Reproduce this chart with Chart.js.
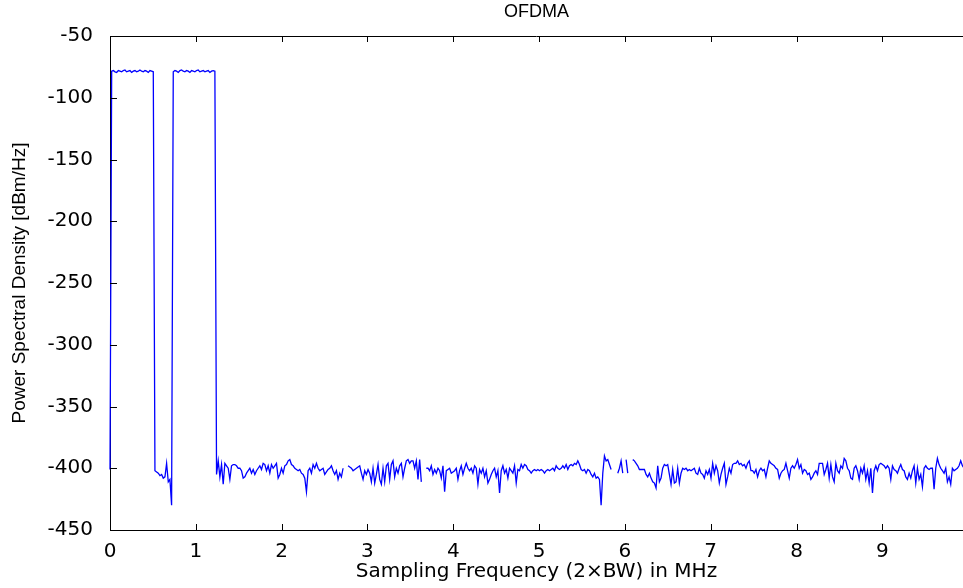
<!DOCTYPE html>
<html>
<head>
<meta charset="utf-8">
<script src="https://cdn.jsdelivr.net/npm/chart.js@4/dist/chart.umd.min.js"></script>
<style>
  body { margin: 0; background: #fff; }
  #wrap { width: 963px; height: 588px; }
</style>
</head>
<body>
<div id="wrap"><canvas id="psdChart" width="963" height="588"></canvas></div>
<script>
// PSD samples, uniform spacing in MHz
const FREQ_STEP = 0.0194;
const dcLevel = -401;
const bandA = [-78.5, -78, -79, -79.5, -78, -78.5, -79, -78, -77.5, -79, -78.5, -78, -79.5,
               -78.5, -78, -79, -78.5, -77.5, -78.5, -79, -78, -78.5, -79.5, -78, -78.5, -79];
const gapA = [-402, -403, -404, -406, -405, -408, -407, -396, -411, -409, -430];
const bandB = [-79, -78, -78.5, -79.5, -78, -77.5, -78.5, -79, -78, -78.5, -79.5, -78, -78.5,
               -79, -78, -77.5, -79, -78.5, -78, -79, -78.5, -78, -79.5, -78.5, -78, -78.5];
const noiseFloor = [
  -405,
  -394, -407, -397, -413, -396, -398, -400, -409, -398, -397, -397, -398, -400, -400, -402, -408,
  -407, -404, -402, -400, -404, -401, -405, -402, -400, -398, -401, -396, -397, -402, -398, -404,
  -397, -400, -398, -396, -408, -405, -400, -404, -398, -397, -394, -393, -397, -398, -400, -401,
  -402, -401, -404, -405, -408, -419, -402, -400, -404, -397, -400, -396, -400,
  -402, -401, -400, -405, -403, -401, -400, -398, -402, -405, -402, -409, -404, -407, -400, null,
  null, -398, -399, -400, -402, -401, -400, -399, -398, -404, -409, -402, -405, -401, -404, -411,
  -400, -412, -405, -397, -409, -413, -400, -411, -398, -396, -409, -397, -394, -407, -400, -404,
  -398, -396, -407, -400, -394, -393, -396, -394, -394, -400, -394, -409, -393, -411, null, null, -400,
  -400, -402, -398, -405, -401, -404, -400, -402, -408, -398, -419, -402, -401, -400, -404, -403,
  -402, -400, -409, -402, -398, -405, -400, -396, -400, -402, -400, -404, -398, -400, -413, -401,
  -404, -400, -407, -402, -412, -409, -405, -402, -400, -407, -402, -420, -402, -398, -404, -401,
  -408, -400, -402, -404, -398, -412, -401, -402, -397, -400, -397, -398, -401, -402, -404, -402, -401,
  -402, -401, -402, -401, -402, -404, -402, -401, -402, -401, -400, -402, -398, -400, -401, -400,
  -398, -400, -397, -401, -398, -397, -398, -396, -397, -394, -397, -401, -402, -401, -404, -401,
  -402, -405, -407, -404, -408, -407, -409, -430, -404, -390, -394, -393, -397, -401, null, null,
  null, -404, -400, -394, -404, null, -393, -404, null, null, -393, -394, -396, -398, -401, -401, -401,
  -401, -405, -407, -404, -408, -411, -412, -416, -398, -411, -408, -400, -397, -398, -397, -405,
  -413, -401, -412, -411, -400, -412, -404, -400, -401, -400, -402, -401, -402, -401, -400, -404,
  -405, -400, -404, -405, -408, -402, -405, -401, -408, -396, -404, -398, -402, -412, -405, -400,
  -396, -413, -407, -400, -404, -397, -396, -396, -394, -397, -396, -398, -397, -400, -396, -394, -402,
  -402, -404, -401, -407, -402, -400, -402, -401, -407, -400, -394, -396, -397, -398, -400, -401,
  -408, -404, -402, -401, -396, -402, -408, -400, -398, -400, -397, -393, -400, -397, -404, -401,
  -402, -405, -404, -409, -407, -404, -402, -405, -396, -396, -396, -405, -401, -396, -408, -397,
  -407, -411, -396, -402, -404, -398, -400, -392, -394, -400, -402, -408, -409, -400,
  -398, -402, -409, -400, -404, -398, -409, -402, -412, -400, -420, -402, -398, -402, -397, -396,
  -397, -398, -400, -398, -400, -409, -398, -401, -402, -404, -400, -397, -401, -402, -407, -409,
  -404, -408, -402, -398, -412, -400, -409, -405, -415, -400, -398, -400, -401, -400, -400, -417,
  -400, -392, -397, -400, -402, -404, -400, -411, -407, -413, -400, -402, -401, -400, -398, -394,
  -398, -400
];

const xTicks = [0, 1, 2, 3, 4, 5, 6, 7, 8, 9];
const yTicks = [-450, -400, -350, -300, -250, -200, -150, -100, -50];

const psd = [dcLevel, ...bandA, ...gapA, ...bandB, ...noiseFloor];
const points = psd.map((v, i) => ({ x: i * FREQ_STEP, y: v }));

// MATLAB style box: top line + inward ticks
const boxTicks = {
  id: 'boxTicks',
  afterDraw(chart) {
    const { ctx, chartArea: a, scales } = chart;
    ctx.save();
    ctx.strokeStyle = '#000';
    ctx.lineWidth = 1;
    ctx.beginPath();
    ctx.moveTo(a.left, a.top + 0.5);
    ctx.lineTo(a.right, a.top + 0.5);
    xTicks.forEach(t => {
      const px = Math.round(scales.x.getPixelForValue(t)) + 0.5;
      ctx.moveTo(px, a.bottom);
      ctx.lineTo(px, a.bottom - 6);
      ctx.moveTo(px, a.top);
      ctx.lineTo(px, a.top + 6);
    });
    yTicks.forEach(t => {
      const py = Math.round(scales.y.getPixelForValue(t)) + 0.5;
      ctx.moveTo(a.left, py);
      ctx.lineTo(a.left + 7, py);
    });
    ctx.stroke();
    ctx.restore();
  }
};

const tickFont = { family: 'DejaVu Sans', size: 20 };

new Chart(document.getElementById('psdChart'), {
  type: 'line',
  data: {
    datasets: [{
      data: points,
      borderColor: '#0000ff',
      borderWidth: 1.3,
      pointRadius: 0,
      tension: 0,
      spanGaps: false,
      clip: 2
    }]
  },
  options: {
    responsive: false,
    animation: false,
    layout: { padding: 0 },
    plugins: {
      legend: { display: false },
      tooltip: { enabled: false },
      title: { display: false }
    },
    scales: {
      x: {
        type: 'linear',
        min: 0,
        max: 9.94,
        afterFit: s => { s.height = 58; },
        grid: { display: false },
        border: { display: true, color: '#000', width: 1 },
        ticks: { stepSize: 1, includeBounds: false, color: '#000', font: tickFont, padding: 2, maxRotation: 0 },
        title: {
          display: true,
          text: 'Sampling Frequency (2×BW) in MHz',
          color: '#000',
          font: { family: 'DejaVu Sans', size: 20 },
          padding: { top: 0, bottom: 4 }
        }
      },
      top: {
        type: 'linear',
        position: 'top',
        min: 0,
        max: 9.94,
        afterFit: s => { s.height = 36; },
        grid: { display: false },
        border: { display: false },
        ticks: { display: false },
        title: {
          display: true,
          text: 'OFDMA',
          color: '#000',
          font: { family: 'Liberation Sans', size: 18 },
          padding: { top: 1, bottom: 0 }
        }
      },
      y: {
        min: -450,
        max: -50,
        afterFit: s => { s.width = 110; },
        grid: { display: false },
        border: { display: true, color: '#000', width: 1 },
        ticks: { stepSize: 50, color: '#000', font: tickFont, padding: 9 },
        title: {
          display: true,
          text: 'Power Spectral Density [dBm/Hz]',
          color: '#000',
          font: { family: 'Liberation Sans', size: 19 },
          padding: { top: 8, bottom: 0 }
        }
      }
    }
  },
  plugins: [boxTicks]
});
</script>
</body>
</html>
